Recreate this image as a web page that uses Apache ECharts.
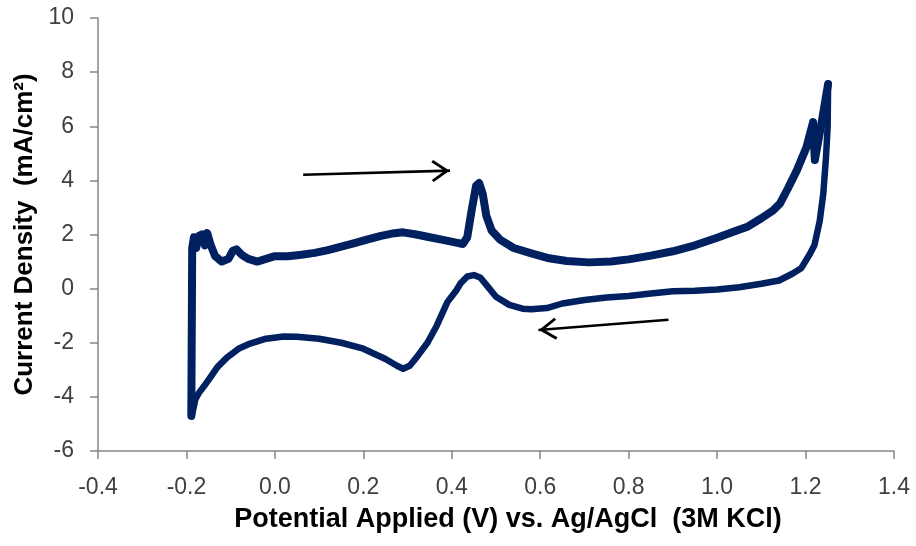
<!DOCTYPE html>
<html>
<head>
<meta charset="utf-8">
<script src="https://cdn.jsdelivr.net/npm/echarts@6/dist/echarts.min.js"></script>
<style>html,body{margin:0;padding:0;background:#fff}#c{width:916px;height:546px}</style>
</head>
<body>
<div id="c"></div>
<script>
// Forward (anodic) scan: x = potential (V), y = current density (mA/cm2)
var forwardScan = [
  [-0.189,-4.7],[-0.187,1.5],[-0.183,1.9],[-0.178,1.5],[-0.172,1.95],[-0.165,2.0],[-0.158,1.6],
  [-0.153,2.05],[-0.145,1.6],[-0.135,1.2],[-0.12,1.0],[-0.105,1.1],[-0.095,1.4],[-0.087,1.45],
  [-0.075,1.25],[-0.06,1.1],[-0.04,1.0],[-0.02,1.1],[0.0,1.2],[0.03,1.2],[0.06,1.25],[0.09,1.32],
  [0.12,1.42],[0.15,1.55],[0.18,1.68],[0.21,1.82],[0.24,1.95],[0.27,2.05],[0.29,2.08],[0.32,2.0],
  [0.35,1.9],[0.38,1.8],[0.41,1.7],[0.425,1.65],[0.435,1.9],[0.445,2.9],[0.455,3.8],[0.462,3.9],
  [0.47,3.5],[0.478,2.7],[0.49,2.15],[0.51,1.8],[0.54,1.5],[0.58,1.3],[0.62,1.12],[0.66,1.02],
  [0.71,0.97],[0.76,1.0],[0.8,1.08],[0.85,1.22],[0.9,1.38],[0.95,1.6],[1.0,1.88],[1.04,2.12],
  [1.07,2.3],[1.1,2.6],[1.126,2.88],[1.142,3.14],[1.16,3.7],[1.18,4.36],[1.202,5.22],[1.217,6.15],
  [1.221,4.75],[1.227,5.3],[1.236,6.1],[1.251,7.56]
];
// Reverse (cathodic) scan
var reverseScan = [
  [1.251,7.56],[1.25,6.0],[1.246,4.8],[1.24,3.5],[1.232,2.5],[1.22,1.6],[1.21,1.29],[1.19,0.75],
  [1.17,0.55],[1.14,0.3],[1.1,0.18],[1.05,0.05],[1.0,-0.03],[0.95,-0.08],[0.9,-0.1],[0.85,-0.18],
  [0.8,-0.27],[0.75,-0.33],[0.7,-0.42],[0.65,-0.55],[0.615,-0.72],[0.58,-0.76],[0.56,-0.74],
  [0.53,-0.6],[0.5,-0.3],[0.48,0.1],[0.465,0.4],[0.45,0.5],[0.435,0.45],[0.42,0.2],[0.41,-0.07],
  [0.39,-0.5],[0.366,-1.37],[0.345,-2.0],[0.32,-2.55],[0.305,-2.85],[0.29,-2.96],[0.276,-2.85],
  [0.25,-2.6],[0.2,-2.22],[0.15,-2.0],[0.1,-1.85],[0.05,-1.78],[0.02,-1.77],[-0.02,-1.85],
  [-0.056,-2.03],[-0.08,-2.2],[-0.108,-2.54],[-0.13,-2.9],[-0.146,-3.28],[-0.16,-3.6],
  [-0.173,-3.88],[-0.18,-4.1],[-0.188,-4.73]
];
// Scan-direction arrows: [tail, tip] in data coordinates
var arrowForward = [[0.064,4.21],[0.396,4.36]];
var arrowReverse = [[0.89,-1.15],[0.596,-1.53]];

var xTitle = 'Potential Applied (V) vs. Ag/AgCl  (3M KCl)';
var yTitle = 'Current Density  (mA/cm\u00B2)';

var navy = '#002060';
var chevron = 'path://M0,0 L11,17 L8.8,18.8 L0,5.4 L-8.8,18.8 L-11,17 Z';

function arrowItem(a){
  return [{coord:a[0]},{coord:a[1],symbolOffset:[0,9.4]}];
}

var chart = echarts.init(document.getElementById('c'), null, {renderer:'canvas'});
chart.setOption({
  animation:false,
  backgroundColor:'#fff',
  grid:{left:98,right:22,top:18,bottom:95,outerBoundsMode:'none'},
  xAxis:{
    type:'value',min:-0.4,max:1.4,interval:0.2,
    name:xTitle,nameLocation:'middle',nameGap:55,
    nameTextStyle:{fontFamily:'Liberation Sans',fontSize:27,fontWeight:'bold',color:'#000',padding:[0,0,0,24]},
    axisLine:{show:true,onZero:false,lineStyle:{color:'#868686',width:1.5}},
    axisTick:{show:true,inside:false,length:8,lineStyle:{color:'#868686',width:1.5}},
    axisLabel:{margin:25,fontFamily:'Liberation Sans',fontSize:23,color:'#404040',
      formatter:function(v){return v.toFixed(1);}},
    splitLine:{show:false}
  },
  yAxis:{
    type:'value',min:-6,max:10,interval:2,
    name:yTitle,nameLocation:'middle',nameGap:54,nameRotate:90,
    nameTextStyle:{fontFamily:'Liberation Sans',fontSize:26,fontWeight:'bold',color:'#000'},
    axisLine:{show:true,onZero:false,lineStyle:{color:'#868686',width:1.5}},
    axisTick:{show:true,inside:false,length:8,lineStyle:{color:'#868686',width:1.5}},
    axisLabel:{margin:24,fontFamily:'Liberation Sans',fontSize:23,color:'#404040'},
    splitLine:{show:false}
  },
  series:[
    {type:'line',data:forwardScan,showSymbol:false,smooth:false,
      lineStyle:{color:navy,width:8,join:'round',cap:'round'},z:3,
      markLine:{silent:true,symbol:['none',chevron],symbolSize:[22,18],
        label:{show:false},
        lineStyle:{color:'#000',width:2.6,type:'solid'},
        data:[arrowItem(arrowForward),arrowItem(arrowReverse)]}
    },
    {type:'line',data:reverseScan,showSymbol:false,smooth:false,
      lineStyle:{color:navy,width:6.5,join:'round',cap:'round'},z:3}
  ]
});
</script>
</body>
</html>
